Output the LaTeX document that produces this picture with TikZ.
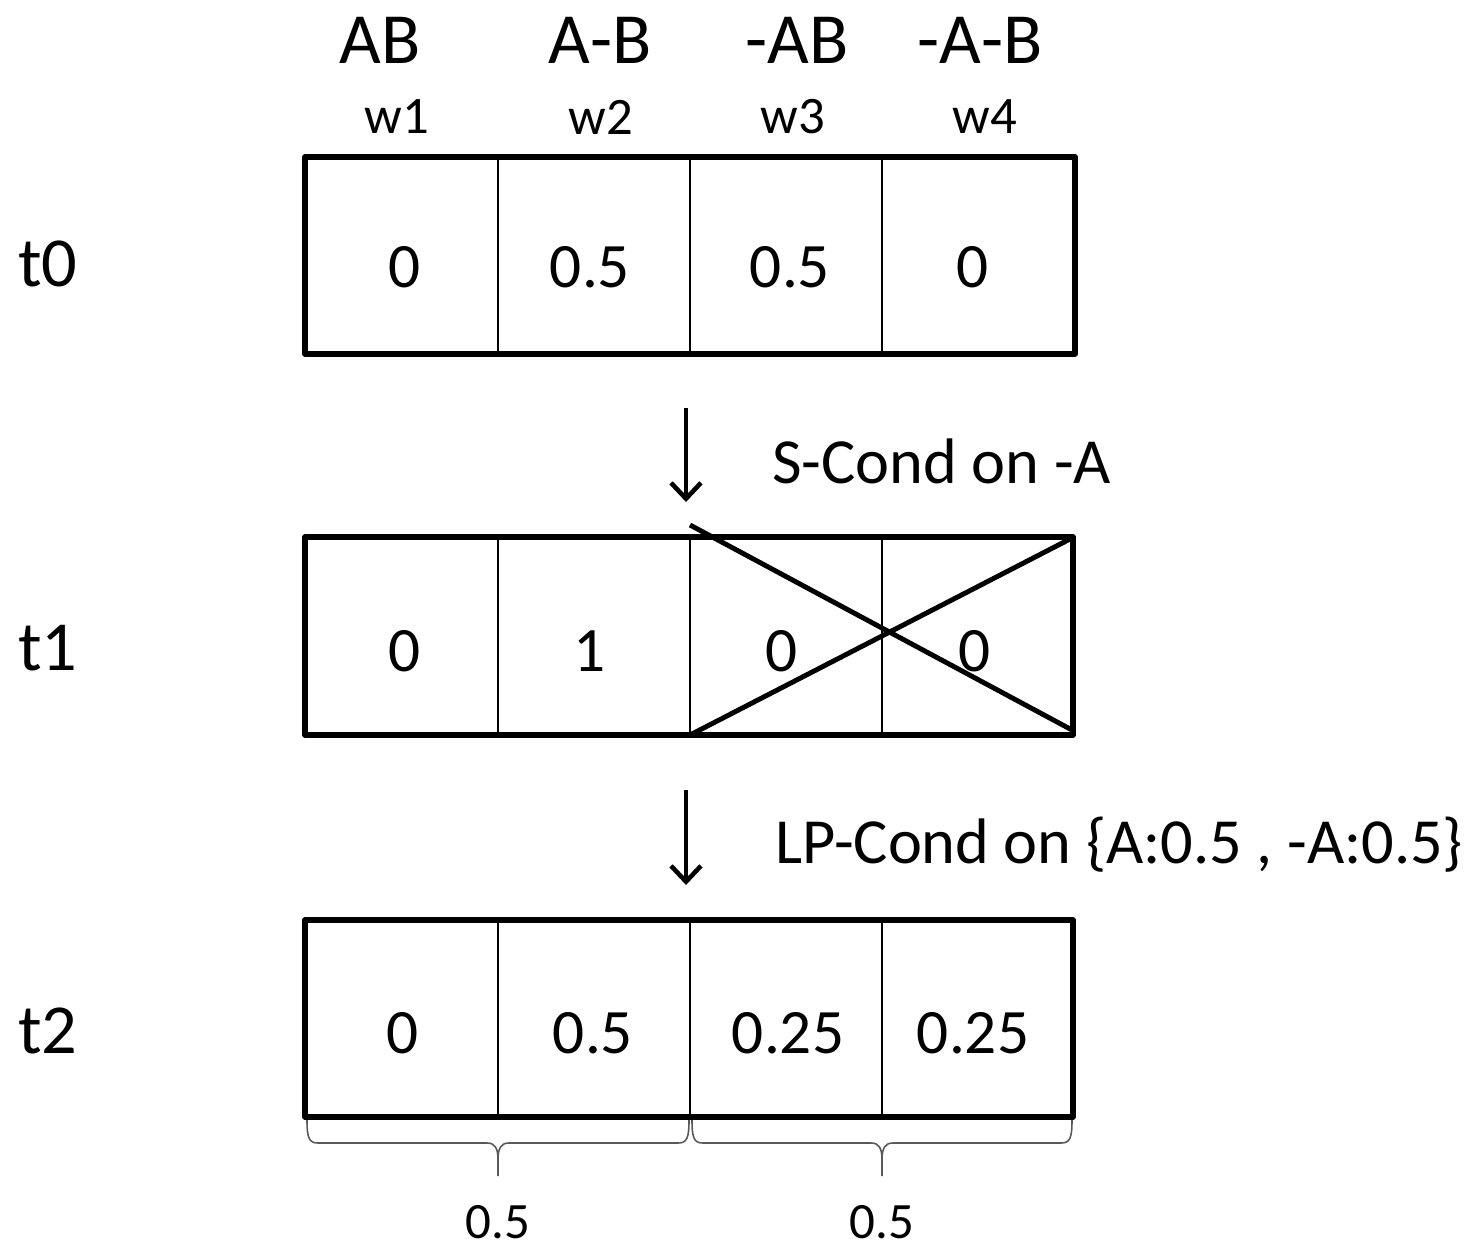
\documentclass[tikz,border=0pt]{standalone}
\usepackage{fontspec}
\setmainfont{Carlito}
\usetikzlibrary{arrows.meta}

\tikzset{
  outer/.style={line width=1.45pt, line join=round},
  divider/.style={line width=0.6pt},
  crossline/.style={line width=1.4pt},
  stepnum/.style={font=\fontsize{18}{20}\selectfont, inner sep=0pt},
  worldhead/.style={font=\fontsize{20.5}{22}\selectfont, inner sep=0pt},
  worldname/.style={font=\fontsize{15}{17}\selectfont, inner sep=0pt},
  timelabel/.style={font=\fontsize{20}{22}\selectfont, inner sep=0pt},
  condlabel/.style={font=\fontsize{18.3}{20}\selectfont, inner sep=0pt, anchor=west},
  updatearrow/.style={line width=0.9pt, -{Straight Barb[length=4.5pt, width=8.5pt, line width=1.3pt]}},
  bracepath/.style={line width=0.45pt, draw=black!65},
  bracenum/.style={font=\fontsize{14.5}{16}\selectfont, inner sep=0pt}
}

\begin{document}
\begin{tikzpicture}[x=0.1mm, y=-0.1mm]
\useasboundingbox (0,0) rectangle (1474,1246);

% world headers
\node[worldhead] (hAB)   at (380,40) {AB};
\node[worldhead] (hAnB)  at (600,40) {A-B};
\node[worldhead] (hnAB)  at (797,40) {-AB};
\node[worldhead] (hnAnB) at (980,40) {-A-B};
\node[worldname] (w1) at (397,117) {w1};
\node[worldname] (w2) at (601,117) {w2};
\node[worldname] (w3) at (793,117) {w3};
\node[worldname] (w4) at (985,117) {w4};

% time labels
\node[timelabel] (t0) at (48,264) {t0};
\node[timelabel] (t1) at (48,648) {t1};
\node[timelabel] (t2) at (48,1031) {t2};

% row t0
\draw[divider] (498,157) -- (498,354) (690,157) -- (690,354) (882,157) -- (882,354);
\draw[outer] (305,157) rectangle (1075,354);
\node[stepnum] (a1) at (405,267) {0};
\node[stepnum] (a2) at (590,267) {0.5};
\node[stepnum] (a3) at (790,267) {0.5};
\node[stepnum] (a4) at (973,267) {0};

% row t1
\draw[divider] (498,537) -- (498,735) (690,537) -- (690,735) (882,537) -- (882,735);
\draw[outer] (305,537) rectangle (1073,735);
\node[stepnum] (b1) at (405,651) {0};
\node[stepnum] (b2) at (590,651) {1};
\node[stepnum] (b3) at (782,651) {0};
\node[stepnum] (b4) at (975,651) {0};
% excluded worlds crossed out
\draw[crossline] (690,525) -- (1072,730);
\draw[crossline] (690,735) -- (1072,538);

% row t2
\draw[divider] (498,920) -- (498,1117) (690,920) -- (690,1117) (882,920) -- (882,1117);
\draw[outer] (305,920) rectangle (1073,1117);
\node[stepnum] (c1) at (403,1033) {0};
\node[stepnum] (c2) at (593,1033) {0.5};
\node[stepnum] (c3) at (788,1033) {0.25};
\node[stepnum] (c4) at (973,1033) {0.25};

% update arrows
\coordinate (s1) at (686,408);
\coordinate (e1) at (686,502);
\coordinate (s2) at (686,790);
\coordinate (e2) at (686,885);
\draw[updatearrow] (s1) -- (e1);
\draw[updatearrow] (s2) -- (e2);
\node[condlabel] (cond1) at (772,461) {S-Cond on -A};
\node[condlabel] (cond2) at (775,845) {LP-Cond on \{A:0.5 , -A:0.5\}};

% partition braces
\draw[bracepath] (307,1120) .. controls (307,1138) and (309,1143) .. (318,1143) -- (487,1143)
  .. controls (495,1143) and (498,1148) .. (498,1160) -- (498,1176);
\draw[bracepath] (689,1120) .. controls (689,1138) and (687,1143) .. (678,1143) -- (509,1143)
  .. controls (501,1143) and (498,1148) .. (498,1160);
\draw[bracepath] (692,1120) .. controls (692,1138) and (694,1143) .. (703,1143) -- (871,1143)
  .. controls (879,1143) and (882,1148) .. (882,1160) -- (882,1176);
\draw[bracepath] (1072,1120) .. controls (1072,1138) and (1070,1143) .. (1061,1143) -- (893,1143)
  .. controls (885,1143) and (882,1148) .. (882,1160);
\node[bracenum] (p1) at (498,1222) {0.5};
\node[bracenum] (p2) at (882,1222) {0.5};
\end{tikzpicture}
\end{document}
